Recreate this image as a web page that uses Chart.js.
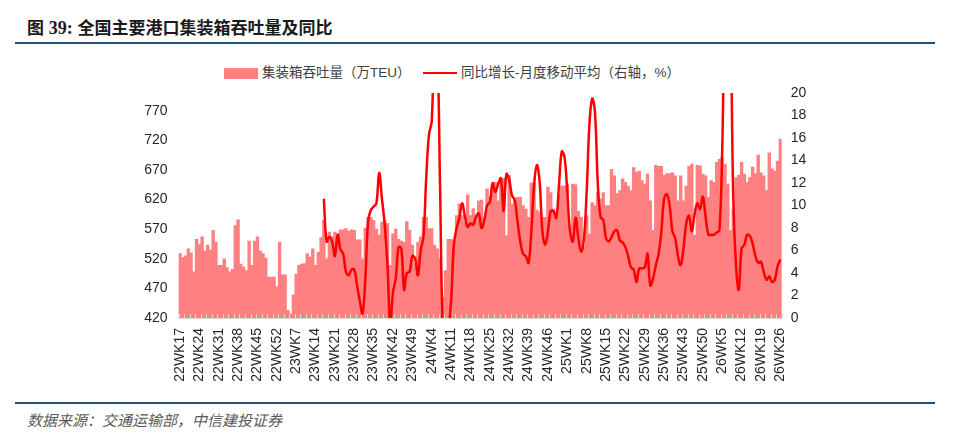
<!DOCTYPE html>
<html>
<head>
<meta charset="utf-8">
<script src="https://cdn.jsdelivr.net/npm/chart.js@4.4.1/dist/chart.umd.min.js"></script>
<style>
  body { margin: 0; width: 960px; height: 436px; background: #fff; position: relative; overflow: hidden;
         font-family: "Liberation Sans", "Noto Sans CJK SC", sans-serif; }
  #title { position: absolute; left: 27px; top: 16px; font-size: 17px; font-weight: bold; color: #1a1a1a;
           line-height: 24px; white-space: nowrap; }
  #title .num { font-family: "Liberation Serif", serif; font-size: 18px; }
  .rule { position: absolute; left: 15px; width: 920px; background: #1f4e79; }
  #legend { position: absolute; left: 0; top: 63px; height: 20px; font-size: 13.5px; color: #404040; white-space: nowrap; }
  #legend .item { position: absolute; top: 0; line-height: 20px; }
  #legend .box { position: absolute; top: 5px; width: 34px; height: 11px; background: #ff8080; }
  #legend .line { position: absolute; top: 9px; width: 34px; height: 2px; background: #ff0000; }
  #wrap { position: absolute; left: 0; top: 50px; width: 960px; height: 345px; }
  #source { position: absolute; left: 27px; top: 409px; font-size: 15px; font-style: italic; color: #595959; white-space: nowrap; }
</style>
</head>
<body>
<div id="title">图 <span class="num">39:</span> 全国主要港口集装箱吞吐量及同比</div>
<div class="rule" style="top:42px;height:2px;"></div>
<div id="legend">
  <div class="box" style="left:224px;"></div>
  <div class="item" style="left:262px;">集装箱吞吐量（万TEU）</div>
  <div class="line" style="left:423px;"></div>
  <div class="item" style="left:461px;">同比增长-月度移动平均（右轴，%）</div>
</div>
<div id="wrap"><canvas id="portChart"></canvas></div>
<div class="rule" style="top:402px;height:2px;"></div>
<div id="source">数据来源：交通运输部，中信建投证券</div>

<script>
// weekly categories 22WK17 .. 26WK26
const weekLabels = [];
for (let yr = 22; yr <= 26; yr++) {
    const first = yr === 22 ? 17 : 1;
    const last = yr === 26 ? 26 : 52;
    for (let w = first; w <= last; w++) weekLabels.push(yr + 'WK' + w);
}

const tickLabels = ['22WK17','22WK24','22WK31','22WK38','22WK45','22WK52','23WK7','23WK14',
    '23WK21','23WK28','23WK35','23WK42','23WK49','24WK4','24WK11','24WK18','24WK25','24WK32',
    '24WK39','24WK46','25WK1','25WK8','25WK15','25WK22','25WK29','25WK36','25WK43','25WK50',
    '26WK5','26WK12','26WK19','26WK26'];

const leftTicks = [420, 470, 520, 570, 620, 670, 720, 770];

// 集装箱吞吐量（万TEU）
const throughput = [
    // 2022 WK17-52
    529, 522, 525, 537, 530, 498, 553, 544, 557, 533, 543, 535, 568, 548, 509, 509, 520, 505,
    498, 502, 576, 586, 511, 506, 500, 550, 509, 550, 557, 533, 529, 521, 489, 489, 489, 473,
    // 2023
    548, 493, 493, 433, 427, 459, 494, 509, 511, 512, 529, 523, 537, 509, 531, 556, 585, 520,
    565, 557, 565, 562, 569, 569, 571, 567, 569, 568, 552, 552, 520, 572, 590, 590, 585, 570,
    560, 582, 585, 580, 509, 562, 570, 553, 550, 548, 583, 568, 543, 512, 548, 557,
    // 2024
    590, 590, 571, 571, 543, 537, 520, 455, 500, 553, 553, 548, 593, 613, 593, 582, 628, 593,
    605, 593, 618, 619, 590, 638, 625, 638, 649, 618, 649, 656, 559, 661, 613, 621, 624, 624,
    610, 604, 590, 648, 649, 602, 599, 590, 590, 641, 632, 604, 590, 628, 643, 643,
    // 2025
    646, 562, 646, 645, 600, 590, 540, 593, 562, 615, 610, 632, 621, 632, 610, 610, 671, 660,
    630, 635, 655, 649, 643, 635, 674, 666, 668, 652, 646, 663, 618, 568, 678, 676, 676, 661,
    664, 664, 665, 660, 618, 660, 618, 643, 676, 680, 560, 678, 677, 663, 660, 624,
    // 2026 WK1-26
    652, 649, 683, 688, 691, 680, 646, 568, 604, 657, 661, 683, 663, 649, 657, 675, 664, 695,
    665, 660, 635, 699, 672, 668, 685, 722
];

// 同比增长-月度移动平均（%）
const yoyAvg = [
    // 2022 WK17-52
    null, null, null, null, null, null, null, null, null, null, null, null, null, null, null, null, null, null,
    null, null, null, null, null, null, null, null, null, null, null, null, null, null, null, null, null, null,
    // 2023
    null, null, null, null, null, null, null, null, null, null, null, null, null, null, null, null,
    10.6, 6.8, 7.2, 6.8, 5.5, 7.4, 6.1, 5.7, 4.1, 3.8, 4.3, 4.3, 2.9, 1.5, 0.4, 3.5, 8.6, 9.6,
    9.9, 10.2, 12.9, 10.6, 8.3, 4.7, -0.5, 2.3, 3.5, 6.3, 6.2, 2.5, 4.0, 4.1, 5.5, 5.3, 3.8, 6.0,
    // 2024
    7.2, 12.4, 16.3, 17.5, 25, 24, 11.8, -1, -2, -1, 1.5, 6.5, 8.0, 8.9, 10.2, 9.0, 8.1, 8.4,
    8.3, 9.0, 9.3, 8.0, 8.7, 10.0, 10.3, 12.0, 11.2, 11.9, 12.4, 9.5, 12.8, 12.3, 10.9, 10.5, 8.6, 6.8,
    5.7, 5.5, 4.9, 7.7, 11.8, 13.6, 12.1, 7.7, 6.5, 7.7, 9.5, 9.5, 8.9, 11.8, 14.8, 14.3,
    // 2025
    11.2, 7.7, 6.8, 8.9, 7.1, 5.9, 7.0, 11.2, 17.2, 19.5, 18.3, 12.1, 9.0, 8.7, 7.1, 6.8, 7.2, 7.7,
    7.8, 6.9, 6.7, 6.3, 5.5, 4.5, 4.3, 3.2, 4.4, 4.4, 4.5, 5.7, 2.9, 3.5, 4.7, 5.7, 7.7, 10.6,
    11.0, 10.0, 7.7, 7.1, 5.5, 4.7, 6.2, 8.4, 9.1, 7.7, 9.2, 10.2, 9.7, 10.8, 9.0, 7.4,
    // 2026 WK1-26
    7.4, 7.4, 7.6, 7.8, 15, 28, 30, 26, 10.6, 4.6, 2.5, 6.2, 6.5, 7.4, 7.3, 6.6, 5.5, 4.9,
    5.0, 4.1, 3.4, 3.7, 3.2, 3.4, 4.6, 5.2
];

// light axis line with small inward tick marks every two weeks (drawn over the bars)
const axisTicks = {
    id: 'axisTicks',
    afterDatasetDraw(chart, args) {
        if (args.index !== 1) return;
        const x = chart.scales.x, area = chart.chartArea, ctx = chart.ctx;
        const step = x.getPixelForValue(1) - x.getPixelForValue(0);
        ctx.save();
        ctx.strokeStyle = '#d9d9d9';
        ctx.lineWidth = 1;
        ctx.beginPath();
        ctx.moveTo(area.left, area.bottom + 0.5);
        ctx.lineTo(area.right, area.bottom + 0.5);
        for (let i = 0; i <= weekLabels.length; i += 2) {
            const px = Math.round(x.getPixelForValue(i) - step / 2) + 0.5;
            ctx.moveTo(px, area.bottom);
            ctx.lineTo(px, area.bottom - 4);
        }
        ctx.stroke();
        ctx.restore();
    }
};

const tickFont = { family: '"Liberation Sans", "Noto Sans CJK SC", sans-serif', size: 14 };

new Chart('portChart', {
    type: 'bar',
    data: {
        labels: weekLabels,
        datasets: [
            {
                type: 'line',
                label: '同比增长-月度移动平均（右轴，%）',
                data: yoyAvg,
                yAxisID: 'y1',
                borderColor: '#ff0000',
                borderWidth: 2.5,
                pointRadius: 0,
                tension: 0.4,
                spanGaps: false,
                order: 0
            },
            {
                label: '集装箱吞吐量（万TEU）',
                data: throughput,
                yAxisID: 'y',
                backgroundColor: '#ff8080',
                borderWidth: 0,
                barPercentage: 1,
                categoryPercentage: 1,
                order: 1
            }
        ]
    },
    options: {
        responsive: true,
        maintainAspectRatio: false,
        animation: false,
        layout: { padding: { top: 43, left: 0, right: 0, bottom: 0 } },
        plugins: {
            legend: { display: false },
            tooltip: { enabled: false }
        },
        scales: {
            x: {
                offset: true,
                grid: { display: false, drawTicks: false },
                border: { display: false },
                afterFit: (s) => { s.height = 77; },
                ticks: {
                    autoSkip: false,
                    minRotation: 90,
                    maxRotation: 90,
                    padding: 10,
                    color: '#262626',
                    font: tickFont,
                    callback: function (val) {
                        const l = this.getLabelForValue(val);
                        return tickLabels.includes(l) ? l : '';
                    }
                }
            },
            y: {
                position: 'left',
                min: 420,
                max: 800,
                afterBuildTicks: (s) => { s.ticks = leftTicks.map(v => ({ value: v })); },
                afterFit: (s) => { s.width = 178.6; },
                grid: { display: false, drawTicks: false },
                border: { display: false },
                ticks: { color: '#262626', font: tickFont, padding: 11 }
            },
            y1: {
                position: 'right',
                min: 0,
                max: 20,
                afterFit: (s) => { s.width = 178.3; },
                grid: { display: false, drawTicks: false },
                border: { display: false },
                ticks: { stepSize: 2, color: '#262626', font: tickFont, padding: 9 }
            }
        }
    },
    plugins: [axisTicks]
});
</script>
</body>
</html>
